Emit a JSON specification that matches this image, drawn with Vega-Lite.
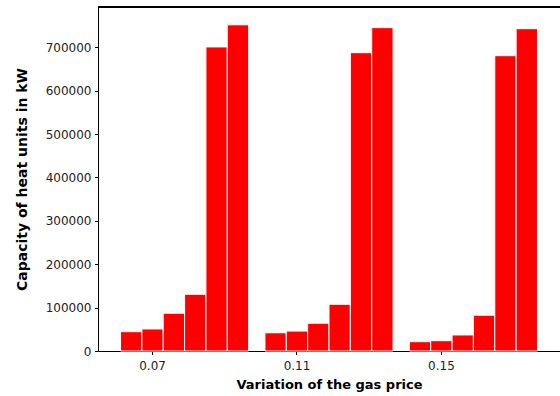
{
  "$schema": "https://vega.github.io/schema/vega-lite/v6.json",
  "width": 462,
  "height": 344,
  "autosize": {"type": "none"},
  "padding": {"left": 98, "top": 7, "right": 0, "bottom": 45},
  "background": "white",
  "config": {
    "view": {"stroke": null},
    "font": "DejaVu Sans",
    "axis": {
      "labelFont": "DejaVu Sans",
      "labelFontSize": 12,
      "labelColor": "#222222",
      "titleFont": "DejaVu Sans",
      "titleFontWeight": "bold",
      "titleColor": "#000000",
      "domainColor": "#000000",
      "domainWidth": 1,
      "tickColor": "#000000",
      "tickSize": 3.5,
      "grid": false
    }
  },
  "data": {
    "values": [
      {"price": "0.07", "case": 1, "capacity": 44500},
      {"price": "0.07", "case": 2, "capacity": 50800},
      {"price": "0.07", "case": 3, "capacity": 87000},
      {"price": "0.07", "case": 4, "capacity": 130800},
      {"price": "0.07", "case": 5, "capacity": 701000},
      {"price": "0.07", "case": 6, "capacity": 752000},
      {"price": "0.11", "case": 1, "capacity": 42000},
      {"price": "0.11", "case": 2, "capacity": 46000},
      {"price": "0.11", "case": 3, "capacity": 64000},
      {"price": "0.11", "case": 4, "capacity": 107700},
      {"price": "0.11", "case": 5, "capacity": 687700},
      {"price": "0.11", "case": 6, "capacity": 745400},
      {"price": "0.15", "case": 1, "capacity": 21500},
      {"price": "0.15", "case": 2, "capacity": 23800},
      {"price": "0.15", "case": 3, "capacity": 37000},
      {"price": "0.15", "case": 4, "capacity": 82400},
      {"price": "0.15", "case": 5, "capacity": 680800},
      {"price": "0.15", "case": 6, "capacity": 743000}
    ]
  },
  "layer": [
    {
      "mark": {"type": "bar", "color": "#ff0000", "stroke": "#ffffff", "strokeWidth": 1},
      "encoding": {
        "x": {
          "field": "price",
          "type": "nominal",
          "sort": ["0.07", "0.11", "0.15"],
          "scale": {"paddingInner": 0.113, "paddingOuter": 0.156},
          "axis": {
            "title": "Variation of the gas price",
            "titleFontSize": 13,
            "labelAngle": 0,
            "bandPosition": 0.25,
            "labelOffset": -32,
            "labelPadding": 5.5,
            "titlePadding": 7
          }
        },
        "xOffset": {
          "field": "case",
          "type": "ordinal",
          "scale": {"paddingInner": 0, "paddingOuter": 0}
        },
        "y": {
          "field": "capacity",
          "type": "quantitative",
          "scale": {"domain": [0, 793000], "nice": false},
          "axis": {
            "title": "Capacity of heat units in kW",
            "titleFontSize": 14,
            "values": [0, 100000, 200000, 300000, 400000, 500000, 600000, 700000],
            "format": "d",
            "labelPadding": 3.5,
            "titlePadding": 16
          }
        }
      }
    },
    {
      "mark": {"type": "rule", "color": "#000000", "strokeWidth": 1},
      "encoding": {"y": {"datum": 793000}}
    }
  ]
}
